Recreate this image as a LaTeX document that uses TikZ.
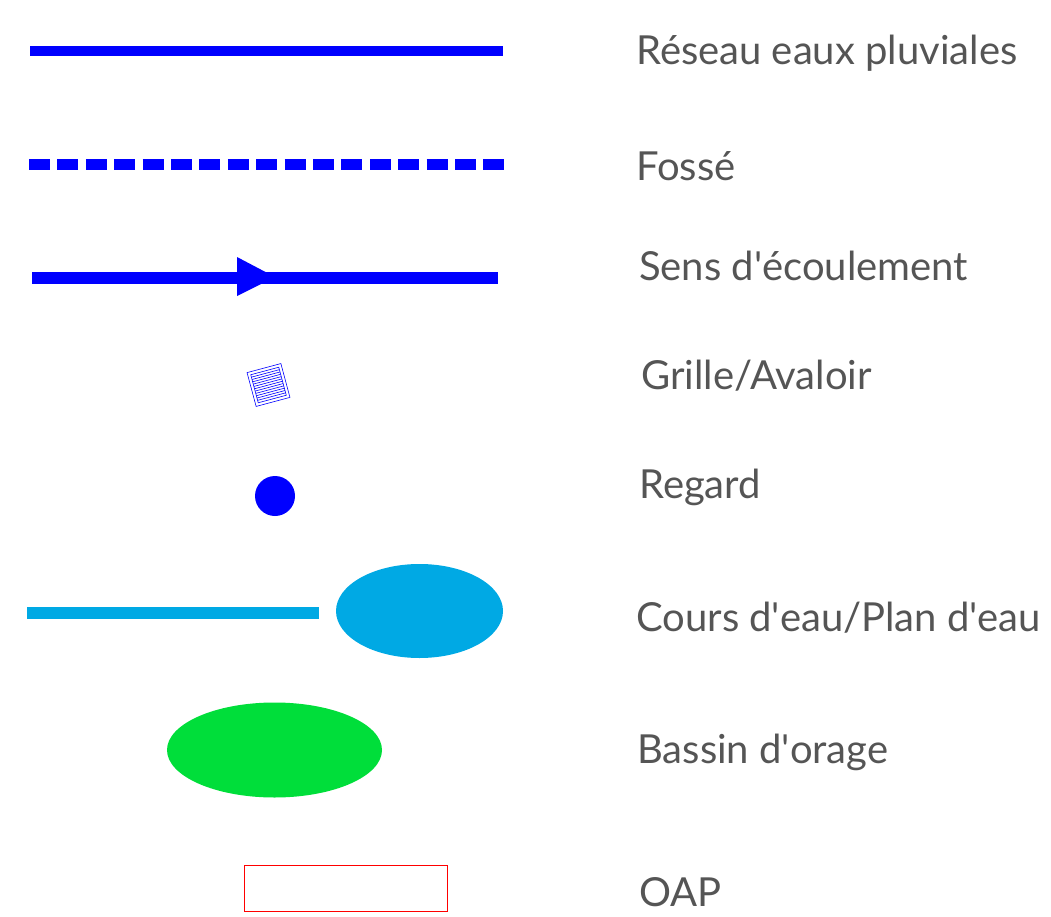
\documentclass[tikz,border=0pt]{standalone}
\usepackage{fontspec}
\setmainfont{Lato}
\usepackage{xcolor}
\usepackage{tikz}

\definecolor{pluvial}{RGB}{0,0,255}
\definecolor{eau}{RGB}{0,169,228}
\definecolor{bassin}{RGB}{0,222,58}
\definecolor{legtext}{RGB}{85,85,85}

\newcommand\apos{\textquotesingle}

\tikzset{
	lbl/.style={anchor=base west, inner sep=0pt, text=legtext, font=\fontsize{40}{40}\selectfont},
	pipe/.style={draw=pluvial, line width=#1},
}

\begin{document}
\begin{tikzpicture}[x=1pt,y=-1pt]
	\useasboundingbox (0,0) rectangle (1051,917);

	\draw[pipe=10] (30,51) -- (503,51); % reseau
	\node[lbl] (reseau) at (636,65) {Réseau eaux pluviales};

	\draw[pipe=11, dash pattern=on 21pt off 7.4pt] (29,165) -- (504,165); % fosse
	\node[lbl] (fosse) at (636,181) {Fossé};

	\draw[pipe=12] (32,278) -- (498,278); % sens
	\fill[pluvial] (237,257) -- (275,277) -- (237,296) -- cycle;
	\node[lbl] (sens) at (639,280) {Sens d\apos écoulement};

	\begin{scope}[shift={(268.5,385)}, rotate=15, draw=pluvial, line width=0.6pt] % grille
		\draw (-17.5,-17.5) rectangle (17.5,17.5);
		\draw (-14.5,-14.5) rectangle (14.5,14.5);
		\foreach \k in {-12,-9.6,...,12.1}
			\draw (-14.5,\k) -- (14.5,\k);
	\end{scope}
	\node[lbl] (grille) at (641,389) {Grille/Avaloir};

	\fill[pluvial] (275,496) circle [radius=20]; % regard
	\node[lbl] (regard) at (639,498) {Regard};

	\draw[draw=eau, line width=12] (27,613) -- (319,613); % cours d'eau
	\fill[eau] (419.5,611) ellipse [x radius=83.5, y radius=47];
	\node[lbl] (cours) at (636,631) {Cours d\apos eau/Plan d\apos eau};

	\fill[bassin] (274.5,750) ellipse [x radius=107.5, y radius=47.5]; % bassin
	\node[lbl] (bassin) at (637,763) {Bassin d\apos orage};

	\draw[red, line width=0.8pt] (244.5,865) rectangle (447,911); % oap
	\node[lbl] (oap) at (639,906) {OAP};
\end{tikzpicture}
\end{document}
